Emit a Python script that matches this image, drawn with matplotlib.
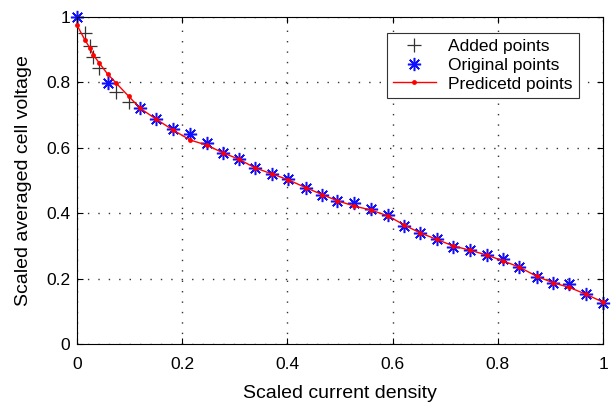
import matplotlib
matplotlib.use("Agg")
import matplotlib.pyplot as plt

plt.rcParams['font.family'] = ['Liberation Sans', 'DejaVu Sans']

# Added points (black +)
added_x = [0.015, 0.025, 0.031, 0.042, 0.075, 0.098]
added_y = [0.950, 0.912, 0.879, 0.843, 0.770, 0.739]

# Original points (blue asterisks)
orig_x = [0.0, 0.058, 0.12, 0.151, 0.183, 0.215, 0.247, 0.277, 0.308, 0.338,
          0.371, 0.402, 0.435, 0.466, 0.495, 0.527, 0.558, 0.591, 0.622, 0.652,
          0.684, 0.715, 0.747, 0.779, 0.809, 0.841, 0.874, 0.904, 0.936, 0.968, 1.0]
orig_y = [1.0, 0.799, 0.721, 0.687, 0.657, 0.642, 0.614, 0.585, 0.565, 0.537,
          0.520, 0.504, 0.476, 0.456, 0.437, 0.432, 0.412, 0.394, 0.361, 0.338,
          0.320, 0.298, 0.289, 0.272, 0.259, 0.234, 0.204, 0.186, 0.183, 0.152, 0.126]

# Predicted points (red line with dots)
pred_x = [0.0, 0.015, 0.025, 0.031, 0.042, 0.058, 0.075, 0.098, 0.12, 0.151,
          0.183, 0.215, 0.247, 0.277, 0.308, 0.338, 0.371, 0.402, 0.435, 0.466,
          0.495, 0.527, 0.558, 0.591, 0.622, 0.652, 0.684, 0.715, 0.747, 0.779,
          0.809, 0.841, 0.874, 0.904, 0.936, 0.968, 1.0]
pred_y = [0.975, 0.930, 0.904, 0.884, 0.860, 0.826, 0.797, 0.758, 0.721, 0.687,
          0.654, 0.624, 0.608, 0.585, 0.565, 0.539, 0.520, 0.502, 0.478, 0.457,
          0.438, 0.422, 0.410, 0.392, 0.364, 0.340, 0.320, 0.300, 0.287, 0.272,
          0.255, 0.235, 0.207, 0.188, 0.173, 0.152, 0.128]

ticks = [0, 0.2, 0.4, 0.6, 0.8, 1]
tick_labels = ['0', '0.2', '0.4', '0.6', '0.8', '1']

fig = plt.figure(figsize=(6.13, 4.05), dpi=100)
ax = fig.add_axes([0.1256, 0.1506, 0.8581, 0.8074])

ax.plot(added_x, added_y, linestyle='none', marker='+', color='#333333',
        markersize=10, markeredgewidth=0.9, label='Added points', clip_on=False)
ax.plot(orig_x, orig_y, linestyle='none', marker=(8, 2, 0), color='#1010ff',
        markersize=9.5, markeredgewidth=1.1, label='Original points', clip_on=False)
ax.plot(pred_x, pred_y, color='red', linewidth=1.0, marker='o', markersize=3.5,
        markeredgewidth=0, label='Predicetd points', clip_on=False, zorder=3)

ax.set_xlim(0, 1)
ax.set_ylim(0, 1)
ax.set_xticks(ticks)
ax.set_xticklabels(tick_labels)
ax.set_yticks(ticks)
ax.set_yticklabels(tick_labels)
ax.tick_params(direction='in', top=True, right=True, labelsize=12.5, length=4,
               width=0.8)
ax.tick_params(axis='x', pad=9)
ax.tick_params(axis='y', pad=5)
ax.grid(True, color='#333333', linestyle=(0, (1, 6.5)), linewidth=1.0)
for s in ax.spines.values():
    s.set_linewidth(0.8)

ax.set_xlabel('Scaled current density', fontsize=14, labelpad=10)
ax.set_ylabel('Scaled averaged cell voltage', fontsize=14, labelpad=10)

leg = ax.legend(loc='upper right', bbox_to_anchor=(0.954, 0.951), fontsize=12.5,
                frameon=True, fancybox=False, edgecolor='#333333', framealpha=1,
                borderpad=0.35, labelspacing=0.2, handlelength=2.5,
                handletextpad=0.7, borderaxespad=0)
leg.get_frame().set_linewidth(0.8)

fig.savefig('out.png', dpi=100)
